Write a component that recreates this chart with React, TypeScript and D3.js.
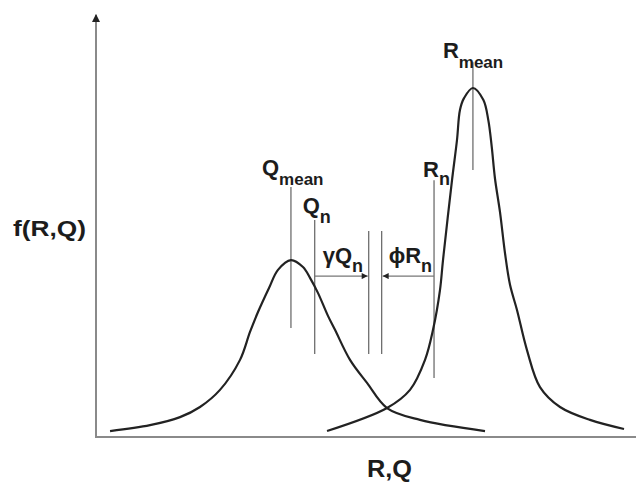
import React from "react";
import * as d3 from "d3";

// curve points (x in axis units 0..100, f normalised to R peak)
const qX = [2.6, 10.0, 15.56, 19.26, 22.96, 26.67, 28.52, 30.0, 32.04, 33.7, 36.1, 38.33, 39.63, 41.1, 42.96, 44.26, 47.04, 50.19, 53.89, 60.0, 72.04];
const qF = [0.017, 0.034, 0.057, 0.086, 0.135, 0.221, 0.301, 0.358, 0.427, 0.479, 0.507, 0.487, 0.456, 0.413, 0.347, 0.307, 0.221, 0.155, 0.083, 0.049, 0.017];

const rX = [42.78, 53.89, 58.15, 60.93, 62.41, 63.7, 64.26, 65.93, 66.85, 67.4, 68.15, 69.8, 71.72, 72.65, 73.28, 73.89, 74.81, 75.74, 76.67, 77.96, 79.81, 82.22, 85.93, 91.48, 97.78];
const rF = [0.017, 0.083, 0.135, 0.221, 0.307, 0.421, 0.507, 0.736, 0.851, 0.937, 0.971, 1.0, 0.966, 0.908, 0.832, 0.74, 0.645, 0.527, 0.436, 0.364, 0.249, 0.143, 0.086, 0.049, 0.023];

// vertical marker lines: x, top f, bottom f
const markerNames = ["Qmean", "Qn", "gammaEnd", "phiEnd", "Rn", "Rmean"];
const markerX = [36.1, 40.5, 50.5, 52.9, 62.6, 69.8];
const markerTop = [0.716, 0.622, 0.59, 0.59, 0.736, 1.074];
const markerBottom = [0.312, 0.238, 0.238, 0.238, 0.169, 0.765];

const arrowF = 0.461;

const FONT = "'Liberation Sans', Arial, sans-serif";
const INK = "#1c1c1c";

export default function App() {
  const width = 643;
  const height = 482;

  const x = d3.scaleLinear().domain([0, 100]).range([96, 636]);
  const y = d3.scaleLinear().domain([0, 1]).range([437, 88]);

  const line = d3
    .line<[number, number]>()
    .x((d) => x(d[0]))
    .y((d) => y(d[1]))
    .curve(d3.curveCatmullRom.alpha(0.5));

  const qPath = line(qX.map((v, i) => [v, qF[i]]) as [number, number][]);
  const rPath = line(rX.map((v, i) => [v, rF[i]]) as [number, number][]);

  const mx = (name: string) => x(markerX[markerNames.indexOf(name)]);

  const labels = [
    { main: "Q", sub: "mean", x: mx("Qmean") - 29, y: 175, dy: 10 },
    { main: "Q", sub: "n", x: mx("Qn") - 12, y: 213, dy: 10 },
    { main: "γQ", sub: "n", x: mx("Qn") + 8, y: 263, dy: 9 },
    { main: "ϕR", sub: "n", x: mx("phiEnd") + 7, y: 263, dy: 9 },
    { main: "R", sub: "n", x: mx("Rn") - 11, y: 177, dy: 8 },
    { main: "R", sub: "mean", x: mx("Rmean") - 30, y: 58, dy: 10 },
  ];

  return (
    <svg
      width={width}
      height={height}
      style={{ position: "absolute", left: 0, top: 0, background: "#fff" }}
    >
      <defs>
        <marker id="ah" viewBox="0 0 10 10" refX="10" refY="5" markerWidth="7" markerHeight="6" markerUnits="userSpaceOnUse" orient="auto">
          <path d="M0,0 L10,5 L0,10 z" fill="#222" />
        </marker>
        <marker id="axh" viewBox="0 0 10 10" refX="5" refY="1" markerWidth="8" markerHeight="9" markerUnits="userSpaceOnUse" orient="0">
          <path d="M5,0 L10,10 L0,10 z" fill="#222" />
        </marker>
      </defs>

      {/* axes */}
      <line x1={x(0)} y1={y(0)} x2={x(100)} y2={y(0)} stroke="#8a8a8a" strokeWidth={2} />
      <line x1={x(0)} y1={y(0) + 1} x2={x(0)} y2={y(1.21)} stroke="#8a8a8a" strokeWidth={2} markerEnd="url(#axh)" />

      {/* marker lines */}
      {markerNames.map((n, i) => (
        <line
          key={n}
          x1={x(markerX[i])}
          x2={x(markerX[i])}
          y1={y(markerTop[i])}
          y2={y(markerBottom[i])}
          stroke="#6e6e6e"
          strokeWidth={1.3}
        />
      ))}

      {/* gamma Qn and phi Rn arrows */}
      <line x1={mx("Qn")} y1={y(arrowF)} x2={mx("gammaEnd") - 1} y2={y(arrowF)} stroke="#777" strokeWidth={1.2} markerEnd="url(#ah)" />
      <line x1={mx("Rn")} y1={y(arrowF)} x2={mx("phiEnd") + 1} y2={y(arrowF)} stroke="#777" strokeWidth={1.2} markerEnd="url(#ah)" />

      {/* distributions */}
      <path d={qPath || ""} fill="none" stroke="#222" strokeWidth={2.2} />
      <path d={rPath || ""} fill="none" stroke="#222" strokeWidth={2.2} />

      {/* labels */}
      {labels.map((l, i) => (
        <text key={i} x={l.x} y={l.y} fontFamily={FONT} fontWeight="bold" fontSize={22} fill={INK}>
          {l.main}
          <tspan fontSize={l.sub === "mean" ? 17 : 18} dy={l.dy}>{l.sub}</tspan>
        </text>
      ))}

      <text x={13} y={236} fontFamily={FONT} fontWeight="bold" fontSize={22} fill={INK} textLength={73} lengthAdjust="spacingAndGlyphs">
        f(R,Q)
      </text>
      <text x={367} y={477} fontFamily={FONT} fontWeight="bold" fontSize={24} fill={INK} textLength={45} lengthAdjust="spacingAndGlyphs">
        R,Q
      </text>
    </svg>
  );
}
